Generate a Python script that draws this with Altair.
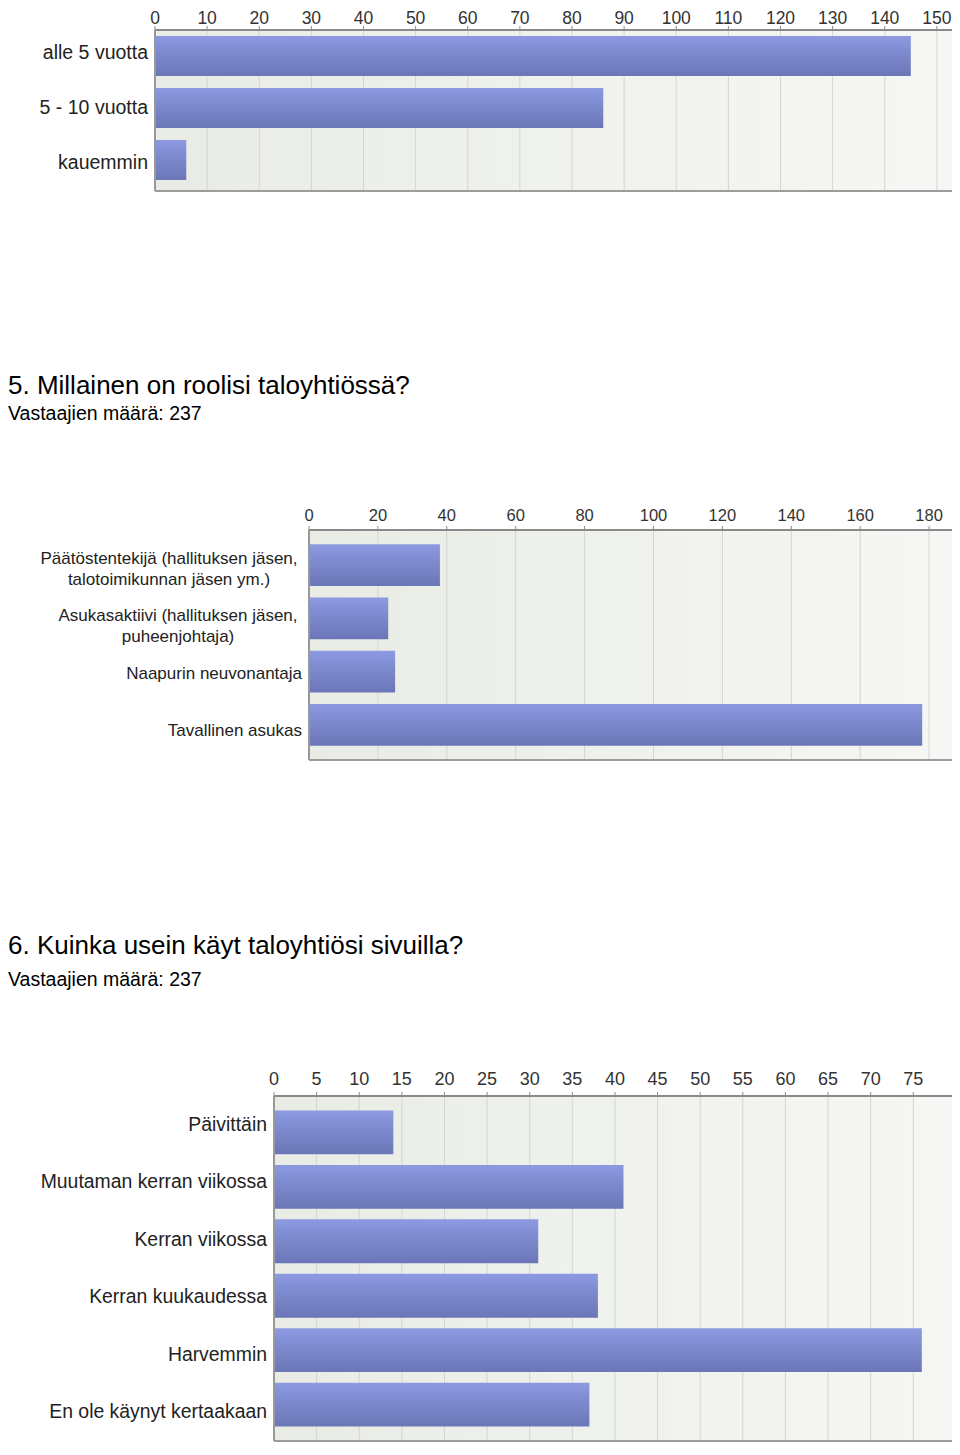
import altair as alt
import pandas as pd

FONT = "Liberation Sans"

# ---------------- data ----------------
q4_categories = ["alle 5 vuotta", "5 - 10 vuotta", "kauemmin"]
q4_values = [145, 86, 6]
q4_ticks = [0, 10, 20, 30, 40, 50, 60, 70, 80, 90, 100, 110, 120, 130, 140, 150]

q5_title = "5. Millainen on roolisi taloyhtiössä?"
q5_subtitle = "Vastaajien määrä: 237"
q5_categories = [
    "Päätöstentekijä (hallituksen jäsen, talotoimikunnan jäsen ym.)",
    "Asukasaktiivi (hallituksen jäsen, puheenjohtaja)",
    "Naapurin neuvonantaja",
    "Tavallinen asukas",
]
q5_labels = [
    "Päätöstentekijä (hallituksen jäsen,\ntalotoimikunnan jäsen ym.)",
    "Asukasaktiivi (hallituksen jäsen,\npuheenjohtaja)",
    "Naapurin neuvonantaja",
    "Tavallinen asukas",
]
q5_values = [38, 23, 25, 178]
q5_ticks = [0, 20, 40, 60, 80, 100, 120, 140, 160, 180]

q6_title = "6. Kuinka usein käyt taloyhtiösi sivuilla?"
q6_subtitle = "Vastaajien määrä: 237"
q6_categories = [
    "Päivittäin",
    "Muutaman kerran viikossa",
    "Kerran viikossa",
    "Kerran kuukaudessa",
    "Harvemmin",
    "En ole käynyt kertaakaan",
]
q6_values = [14, 41, 31, 38, 76, 37]
q6_ticks = [0, 5, 10, 15, 20, 25, 30, 35, 40, 45, 50, 55, 60, 65, 70, 75]

# ---------------- style ----------------
W, H = 944, 1435

bar_fill = alt.Gradient(
    gradient="linear",
    stops=[alt.GradientStop(color="#8d99e1", offset=0),
           alt.GradientStop(color="#6a76b6", offset=1)],
    x1=0, x2=0, y1=0, y2=1,
)
bg_fill = alt.Gradient(
    gradient="linear",
    stops=[alt.GradientStop(color="#e9ece5", offset=0),
           alt.GradientStop(color="#f6f7f4", offset=1)],
    x1=0, x2=1, y1=0, y2=0,
)
ONE = pd.DataFrame({"a": [0]})


def panel(cats, labels, vals, ticks, xmax, L, R, T, B, band, pi, po,
          lab_size, lab_x, tick_size, tick_base, multi=()):
    df = pd.DataFrame({"cat": cats, "label": labels, "val": vals})
    tdf = pd.DataFrame({"tick": ticks})
    xs = alt.Scale(domain=[0, xmax], range=[L, R], nice=False, zero=True)
    ys = alt.Scale(domain=cats, range=band, paddingInner=pi, paddingOuter=po)
    layers = []
    layers.append(
        alt.Chart(ONE).mark_rect(fill=bg_fill, stroke="#cdcdcd", strokeWidth=1)
        .encode(x=alt.value(L), x2=alt.value(R), y=alt.value(T), y2=alt.value(B))
    )
    layers.append(
        alt.Chart(tdf).mark_rule(color="#d3d5d0", strokeWidth=1)
        .encode(x=alt.X("tick:Q", scale=xs, axis=None),
                y=alt.value(T), y2=alt.value(B))
    )
    layers.append(
        alt.Chart(df).mark_bar(fill=bar_fill)
        .encode(x=alt.X("val:Q", scale=xs, axis=None),
                y=alt.Y("cat:N", scale=ys, axis=None))
    )
    # frame lines
    layers.append(
        alt.Chart(ONE).mark_rule(color="#8a8a8a", strokeWidth=2)
        .encode(x=alt.value(L), x2=alt.value(R), y=alt.value(T))
    )
    layers.append(
        alt.Chart(ONE).mark_rule(color="#999999", strokeWidth=2)
        .encode(x=alt.value(L), y=alt.value(T), y2=alt.value(B))
    )
    layers.append(
        alt.Chart(ONE).mark_rule(color="#9c9c9c", strokeWidth=2)
        .encode(x=alt.value(L), x2=alt.value(R), y=alt.value(B))
    )
    # ticks and tick labels
    layers.append(
        alt.Chart(tdf).mark_rule(color="#8a8a8a", strokeWidth=1)
        .encode(x=alt.X("tick:Q", scale=xs, axis=None),
                y=alt.value(T - 4), y2=alt.value(T))
    )
    layers.append(
        alt.Chart(tdf).mark_text(align="center", baseline="alphabetic",
                                 fontSize=tick_size, font=FONT, color="#333333")
        .encode(x=alt.X("tick:Q", scale=xs, axis=None),
                y=alt.value(tick_base), text=alt.Text("tick:Q"))
    )
    # category labels
    multi_cats = [m[0] for m in multi]
    single = alt.Chart(df).mark_text(
        align="right", baseline="middle", fontSize=lab_size, font=FONT,
        color="#222222"
    ).encode(x=alt.value(lab_x), y=alt.Y("cat:N", scale=ys, axis=None),
             text="label:N")
    if multi_cats:
        single = single.transform_filter(
            {"not": alt.FieldOneOfPredicate(field="cat", oneOf=multi_cats)}
        )
    layers.append(single)
    for cat, cx in multi:
        layers.append(
            alt.Chart(df).transform_filter(alt.datum.cat == cat).mark_text(
                align="center", baseline="middle", lineBreak="\n",
                lineHeight=21, fontSize=lab_size, font=FONT, color="#222222"
            ).encode(x=alt.value(cx), y=alt.Y("cat:N", scale=ys, axis=None),
                     text="label:N")
        )
    return layers


def heading(title, subtitle, ty, sy):
    return [
        alt.Chart(pd.DataFrame({"t": [title]})).mark_text(
            align="left", baseline="alphabetic", fontSize=26, font=FONT,
            color="#000000"
        ).encode(x=alt.value(0), y=alt.value(ty), text="t:N"),
        alt.Chart(pd.DataFrame({"t": [subtitle]})).mark_text(
            align="left", baseline="alphabetic", fontSize=19.5, font=FONT,
            color="#000000"
        ).encode(x=alt.value(0), y=alt.value(sy), text="t:N"),
    ]


layers = []
layers += panel(q4_categories, q4_categories, q4_values, q4_ticks, 153.0,
                147, 944.5, 22, 183, [17, 183], 0.23, 0.21,
                19.5, 140, 17.5, 16)
layers += heading(q5_title, q5_subtitle, 386, 412)
layers += panel(q5_categories, q5_labels, q5_values, q5_ticks, 186.8,
                301, 944.5, 522, 752, [522, 752], 0.217, 0.27,
                17, 294, 16.5, 513,
                multi=[(q5_categories[0], 161), (q5_categories[1], 170)])
layers += heading(q6_title, q6_subtitle, 946, 977.5)
layers += panel(q6_categories, q6_categories, q6_values, q6_ticks, 79.6,
                266, 944.5, 1088, 1433, [1088, 1433], 0.194, 0.265,
                19.4, 259, 18, 1076.5)

chart = alt.layer(*layers).resolve_scale(
    x="independent", y="independent"
).properties(
    width=W, height=H, padding=0, background="white",
    autosize=alt.AutoSizeParams(type="none"),
).configure_view(stroke="transparent")

chart.save("out.html", embed_options={"renderer": "svg", "actions": False})
